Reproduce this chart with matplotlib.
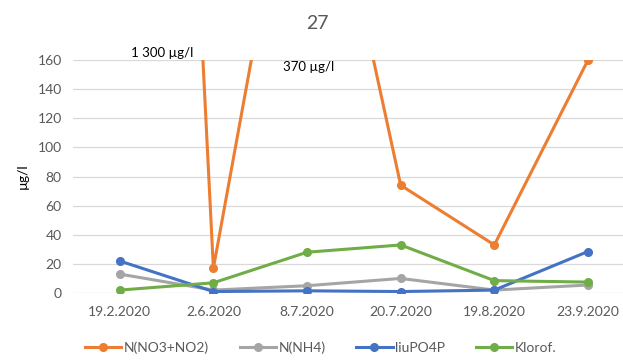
import matplotlib.pyplot as plt

plt.rcParams["font.family"] = ["Lato", "DejaVu Sans"]

dates = ["19.2.2020", "2.6.2020", "8.7.2020", "20.7.2020", "19.8.2020", "23.9.2020"]
no3_no2 = [1300, 17, 370, 74, 33, 160]
nh4 = [13, 2, 5, 10, 2, 5.5]
po4p = [22, 1, 1.5, 1, 2, 28.5]
klorof = [2, 7, 28, 33, 8.5, 7.5]

series = [
    ("N(NO3+NO2)", no3_no2, "#ED7D31"),
    ("N(NH4)", nh4, "#A5A5A5"),
    ("liuPO4P", po4p, "#4472C4"),
    ("Klorof.", klorof, "#70AD47"),
]

text_color = "#595959"

fig = plt.figure(figsize=(6.23, 3.62), dpi=100)
# plot area runs a bit past the right edge, as in the cropped reference
ax = fig.add_axes([0.117, 0.1906, 0.902, 0.6436])

x = list(range(len(dates)))
for label, values, color in series:
    ax.plot(x, values, color=color, linewidth=2.2, marker="o", markersize=5.5,
            label=label, solid_joinstyle="round")

ax.set_xlim(-0.5, len(dates) - 0.5)
ax.set_ylim(0, 160)
ax.set_yticks(range(0, 161, 20))
ax.set_xticks(x)
ax.set_xticklabels(dates)
ax.tick_params(axis="both", length=0, labelsize=10, colors=text_color)
ax.tick_params(axis="x", pad=9)
ax.tick_params(axis="y", pad=8)
ax.grid(axis="y", color="#D9D9D9", linewidth=0.9)
ax.set_axisbelow(True)
for spine in ax.spines.values():
    spine.set_visible(False)

ax.set_ylabel("µg/l", fontsize=10, color="black", labelpad=6)

# labels for the two values that go off the top
ax.text(0.45, 165, "1 300 µg/l", fontsize=9.5, color="black", ha="center",
        va="center", clip_on=False)
ax.text(2.02, 155, "370 µg/l", fontsize=9.5, color="black", ha="center",
        va="center", clip_on=False)

fig.text(0.51, 0.935, "27", fontsize=14, color=text_color, ha="center", va="center")

fig.legend(loc="lower center", bbox_to_anchor=(0.515, -0.012), ncol=4,
           frameon=False, fontsize=10, handlelength=2.6, handletextpad=0.2,
           columnspacing=2.2, labelcolor=text_color)

fig.savefig("out.png", dpi=100)
